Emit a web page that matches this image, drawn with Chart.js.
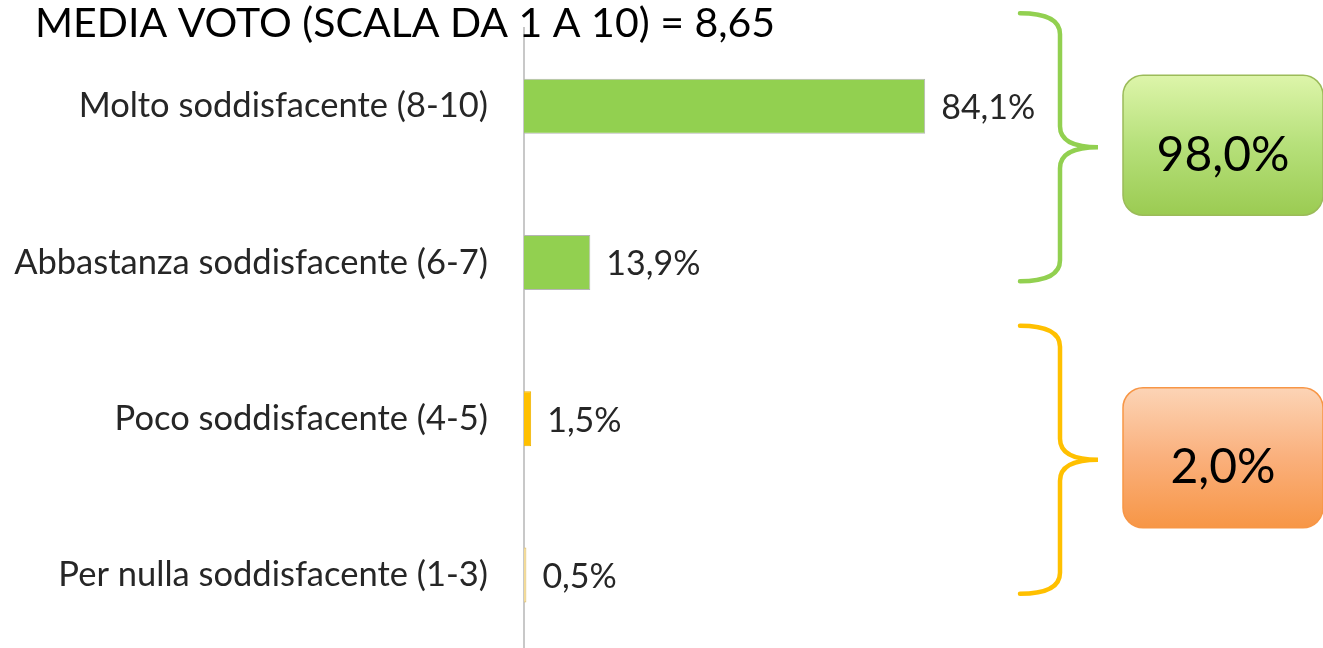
<!DOCTYPE html>
<html>
<head>
<meta charset="utf-8">
<script src="https://cdn.jsdelivr.net/npm/chart.js@4.4.1/dist/chart.umd.min.js"></script>
<style>
  html, body { margin: 0; padding: 0; background: #fff; overflow: hidden; }
  #wrap { position: relative; width: 1323px; height: 653px; }
</style>
</head>
<body>
<div id="wrap"><canvas id="grafico"></canvas></div>
<script>
// dati
const categorie = [
  "Molto soddisfacente (8-10)",
  "Abbastanza soddisfacente (6-7)",
  "Poco soddisfacente (4-5)",
  "Per nulla soddisfacente (1-3)"
];
const valori = [84.1, 13.9, 1.5, 0.5];
const coloriBarre = ["#92D050", "#92D050", "#FFC000", "#F5DC96"];
const bordiBarre = ["#B5B5B5", "#B5B5B5", "#F0B400", "#DDBB66"];
const titolo = "MEDIA VOTO (SCALA DA 1 A 10) = 8,65";
// gruppi: indici delle categorie, totale, colore parentesi
const gruppi = [
  { da: 0, a: 1, totale: "98,0%", colore: "#92D050", box: ["#DDF5AA", "#B6E07A", "#9BCB52"], bordo: "#9BBB59" },
  { da: 2, a: 3, totale: "2,0%", colore: "#FFC000", box: ["#FCD4B6", "#FAB07C", "#F79646"], bordo: "#F79646" }
];

const fmt = v => v.toFixed(1).replace(".", ",") + "%";
const FONT = "Lato, 'Open Sans', sans-serif";

// etichette dei valori accanto alle barre
const etichetteValori = {
  id: "etichetteValori",
  afterDatasetsDraw(chart) {
    const { ctx } = chart;
    const meta = chart.getDatasetMeta(0);
    ctx.save();
    ctx.font = "34px " + FONT;
    ctx.fillStyle = "#262626";
    ctx.textBaseline = "middle";
    meta.data.forEach((bar, i) => {
      ctx.fillText(fmt(valori[i]), bar.x + 16, bar.y + 2);
    });
    ctx.restore();
  }
};

// titolo, parentesi graffe e riquadri dei totali
const decorazioni = {
  id: "decorazioni",
  afterDraw(chart) {
    const { ctx, scales: { y } } = chart;
    ctx.save();
    ctx.font = "41px " + FONT;
    ctx.fillStyle = "#000";
    ctx.textBaseline = "alphabetic";
    ctx.fillText(titolo, 35, 37);

    gruppi.forEach(g => {
      const centro = (y.getPixelForValue(g.da) + y.getPixelForValue(g.a)) / 2 - 37;
      const top = centro - 134, bot = centro + 134;
      const x0 = 1020, x1 = 1060, xp = 1098, r = 21;
      ctx.beginPath();
      ctx.moveTo(x0, top);
      ctx.quadraticCurveTo(x1, top, x1, top + r);
      ctx.lineTo(x1, centro - r);
      ctx.quadraticCurveTo(x1, centro, xp, centro);
      ctx.quadraticCurveTo(x1, centro, x1, centro + r);
      ctx.lineTo(x1, bot - r);
      ctx.quadraticCurveTo(x1, bot, x0, bot);
      ctx.strokeStyle = g.colore;
      ctx.lineWidth = 4.5;
      ctx.lineCap = "round";
      ctx.stroke();

      // riquadro arrotondato con sfumatura
      const bx = 1123, bw = 200, bh = 140, by = centro - 72;
      const grad = ctx.createLinearGradient(0, by, 0, by + bh);
      grad.addColorStop(0, g.box[0]);
      grad.addColorStop(0.5, g.box[1]);
      grad.addColorStop(1, g.box[2]);
      ctx.beginPath();
      ctx.roundRect(bx, by, bw, bh, 20);
      ctx.fillStyle = grad;
      ctx.fill();
      ctx.strokeStyle = g.bordo;
      ctx.lineWidth = 1.5;
      ctx.stroke();

      ctx.fillStyle = "#000";
      ctx.font = "48px " + FONT;
      ctx.textAlign = "center";
      ctx.textBaseline = "middle";
      ctx.fillText(g.totale, bx + bw / 2, by + bh / 2 + 10);
      ctx.textAlign = "left";
    });
    ctx.restore();
  }
};

new Chart(document.getElementById("grafico"), {
  type: "bar",
  data: {
    labels: categorie,
    datasets: [{
      data: valori,
      backgroundColor: coloriBarre,
      borderColor: bordiBarre,
      borderWidth: 1,
      barPercentage: 0.352,
      categoryPercentage: 1
    }]
  },
  options: {
    indexAxis: "y",
    responsive: true,
    maintainAspectRatio: false,
    animation: false,
    events: [],
    layout: { autoPadding: false, padding: { top: 28, right: 322, left: 0, bottom: 0 } },
    scales: {
      x: { display: false, min: 0, max: 100 },
      y: {
        afterFit(scale) {
          scale.width = 524;
          scale.paddingTop = 0;
          scale.paddingBottom = 0;
        },
        grid: { display: false, drawTicks: false },
        border: { display: true, color: "#C8C8C8", width: 2 },
        ticks: {
          padding: 36,
          color: "#262626",
          font: { family: FONT, size: 34.5 }
        }
      }
    },
    plugins: { legend: { display: false }, tooltip: { enabled: false } }
  },
  plugins: [etichetteValori, decorazioni]
});
</script>
</body>
</html>
